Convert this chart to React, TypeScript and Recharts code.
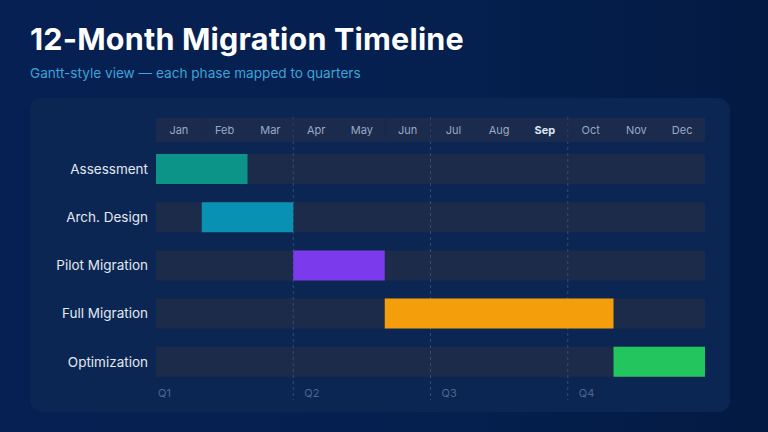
import { BarChart, Bar, XAxis, YAxis, ReferenceLine, Cell } from "recharts";

const phases = ["Assessment", "Arch. Design", "Pilot Migration", "Full Migration", "Optimization"];
const startMonth = [0, 1, 3, 5, 10];
const durationMonths = [2, 2, 2, 5, 2];
const phaseColors = ["#0d9488", "#0891b2", "#7c3aed", "#f59e0b", "#22c55e"];

const months = ["Jan", "Feb", "Mar", "Apr", "May", "Jun", "Jul", "Aug", "Sep", "Oct", "Nov", "Dec"];
const highlightMonth = "Sep";
const quarters = ["Q1", "Q2", "Q3", "Q4"];
const quarterStarts = [0, 3, 6, 9];

const FONT = "Inter, 'Open Sans', sans-serif";
const W = 768;
const H = 432;
const Y_AXIS_W = 156;
const MARGIN = { top: 117, right: 63, bottom: 46, left: 0 };
const MONTH_W = (W - Y_AXIS_W - MARGIN.right) / 12;

const data = phases.map((name, i) => ({
  name,
  start: startMonth[i],
  duration: durationMonths[i],
}));

function MonthTick(props: any) {
  const { x, y, payload } = props;
  const label = months[Math.floor(payload.value)];
  const on = label === highlightMonth;
  return (
    <g>
      <rect x={x - MONTH_W / 2} y={y - 27} width={MONTH_W} height={24} fill="rgba(43,48,71,0.5)" />
      <text
        x={x}
        y={y - 15}
        textAnchor="middle"
        dominantBaseline="central"
        fontSize={11}
        fontWeight={on ? 700 : 400}
        fill={on ? "#dbe4f3" : "#9aa9c4"}
        fontFamily={FONT}
      >
        {label}
      </text>
    </g>
  );
}

// dashed quarter divider plus its Q label underneath
function QuarterMark(props: any) {
  const { x1, x2, y1, y2, label, first } = props;
  const top = Math.min(y1, y2);
  const bottom = Math.max(y1, y2);
  return (
    <g>
      {!first && (
        <line
          x1={x1}
          x2={x2}
          y1={top - 28}
          y2={bottom + 14}
          stroke="#3d5480"
          strokeOpacity={0.8}
          strokeDasharray="3 3"
          strokeWidth={1}
        />
      )}
      <text
        x={x1 + (first ? 2 : 11)}
        y={bottom + 7}
        textAnchor="start"
        dominantBaseline="central"
        fontSize={11}
        fill="#4f6591"
        fontFamily={FONT}
      >
        {label}
      </text>
    </g>
  );
}

export default function App() {
  return (
    <div
      style={{
        position: "absolute",
        left: 0,
        top: 0,
        width: W,
        height: H,
        overflow: "hidden",
        fontFamily: FONT,
        background: "linear-gradient(90deg, #062053 0%, #05204f 60%, #031a42 100%)",
      }}
    >
      <div
        style={{
          position: "absolute",
          left: 30,
          top: 20,
          fontSize: 30.5,
          fontWeight: 700,
          color: "#ffffff",
          letterSpacing: 0.2,
        }}
      >
        12-Month Migration Timeline
      </div>
      <div
        style={{
          position: "absolute",
          left: 30,
          top: 65,
          fontSize: 13.6,
          color: "#3fa3d6",
        }}
      >
        Gantt-style view — each phase mapped to quarters
      </div>
      <div
        style={{
          position: "absolute",
          left: 30,
          top: 98,
          width: 700,
          height: 314,
          borderRadius: 12,
          background: "#0b2653",
        }}
      />
      <div style={{ position: "absolute", left: 0, top: 0 }}>
        <BarChart width={W} height={H} data={data} layout="vertical" margin={MARGIN} barSize={30}>
          <XAxis
            xAxisId="m"
            type="number"
            orientation="top"
            domain={[0, 12]}
            ticks={months.map((_, i) => i + 0.5)}
            interval={0}
            height={28}
            tickSize={0}
            tickMargin={0}
            axisLine={false}
            tickLine={false}
            tick={<MonthTick />}
          />
          <YAxis
            type="category"
            dataKey="name"
            width={Y_AXIS_W}
            axisLine={false}
            tickLine={false}
            tick={{ fill: "#e2e8f0", fontSize: 13.5, fontFamily: FONT }}
          />
          <Bar
            xAxisId="m"
            dataKey="start"
            stackId="t"
            fill="transparent"
            isAnimationActive={false}
          />
          {quarterStarts.map((q, i) => (
            <ReferenceLine
              key={q}
              xAxisId="m"
              x={q}
              zIndex={250}
              shape={<QuarterMark label={quarters[i]} first={i === 0} />}
            />
          ))}
          <Bar
            xAxisId="m"
            dataKey="duration"
            stackId="t"
            background={{ fill: "rgba(47,48,67,0.5)" }}
            isAnimationActive={false}
          >
            {data.map((d, i) => (
              <Cell key={d.name} fill={phaseColors[i]} />
            ))}
          </Bar>
        </BarChart>
      </div>
    </div>
  );
}
